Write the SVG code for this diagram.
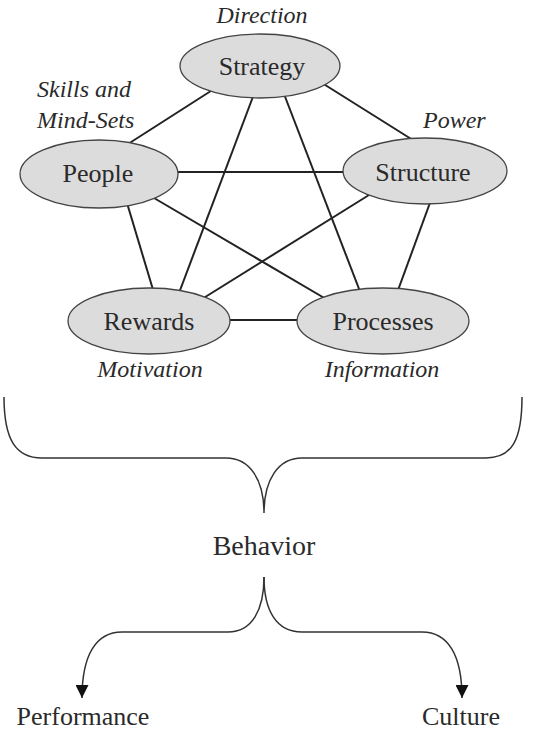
<svg xmlns="http://www.w3.org/2000/svg" width="540" height="731" viewBox="0 0 540 731">
  <style>
    .node ellipse { fill: #dcdcdc; stroke: #444; stroke-width: 1.3; }
    .label { font-family: "Liberation Serif", "DejaVu Serif", serif; font-size: 26px; fill: #2a2a2a; text-anchor: middle; }
    .note { font-family: "Liberation Serif", "DejaVu Serif", serif; font-size: 24px; font-style: italic; fill: #2a2a2a; }
    .link { stroke: #222; stroke-width: 2; fill: none; }
    .brace { stroke: #333; stroke-width: 1.5; fill: none; }
  </style>
  <defs>
    <marker id="arrow" viewBox="0 0 10 10" refX="10" refY="5" markerWidth="13" markerHeight="13" markerUnits="userSpaceOnUse" orient="auto">
      <path d="M0,0 L10,5 L0,10 Z" fill="#111"/>
    </marker>
  </defs>
  <rect width="540" height="731" fill="#ffffff"/>

  <!-- connectors between the five design elements -->
  <g id="connectors">
    <line class="link" x1="214" y1="89" x2="128" y2="144"/>
    <line class="link" x1="322" y1="83" x2="416" y2="142"/>
    <line class="link" x1="254" y1="94" x2="179" y2="293"/>
    <line class="link" x1="284" y1="94" x2="361" y2="294"/>
    <line class="link" x1="174" y1="172" x2="347" y2="172"/>
    <line class="link" x1="127" y1="203" x2="154" y2="293"/>
    <line class="link" x1="154" y1="198" x2="326" y2="299"/>
    <line class="link" x1="369" y1="195" x2="202" y2="299"/>
    <line class="link" x1="431" y1="200" x2="397" y2="293"/>
    <line class="link" x1="226" y1="320" x2="301" y2="320"/>
  </g>

  <g id="strategy" class="node">
    <ellipse cx="260" cy="66" rx="80" ry="32"/>
    <text class="label" x="262" y="75">Strategy</text>
    <text class="note" x="262" y="23" text-anchor="middle">Direction</text>
  </g>
  <g id="people" class="node">
    <ellipse cx="99" cy="174" rx="79" ry="34"/>
    <text class="label" x="98" y="182">People</text>
    <text class="note" x="37" y="97">Skills and</text>
    <text class="note" x="37" y="128">Mind-Sets</text>
  </g>
  <g id="structure" class="node">
    <ellipse cx="425" cy="171" rx="82" ry="33"/>
    <text class="label" x="423" y="181">Structure</text>
    <text class="note" x="423" y="128">Power</text>
  </g>
  <g id="rewards" class="node">
    <ellipse cx="149" cy="321" rx="81" ry="33"/>
    <text class="label" x="149" y="330">Rewards</text>
    <text class="note" x="150" y="377" text-anchor="middle">Motivation</text>
  </g>
  <g id="processes" class="node">
    <ellipse cx="383" cy="321" rx="86" ry="33"/>
    <text class="label" x="383" y="330">Processes</text>
    <text class="note" x="382" y="377" text-anchor="middle">Information</text>
  </g>

  <!-- brace gathering the elements into behavior -->
  <g id="brace">
    <path class="brace" d="M4,397 C4,440 16,458 42,458 L226,458 C250,458 264,480 264,513 C264,480 278,458 302,458 L486,458 C512,458 522,440 522,397"/>
  </g>

  <g id="behavior">
    <text class="label" x="264" y="555" style="font-size:28px">Behavior</text>
  </g>

  <!-- behavior splitting into its two outcomes -->
  <g id="outcome-links">
    <path class="brace" d="M264,577 C264,610 252,632 228,632 L122,632 C96,632 82,655 82,698" marker-end="url(#arrow)"/>
    <path class="brace" d="M264,577 C264,610 276,632 302,632 L422,632 C448,632 462,655 462,698" marker-end="url(#arrow)"/>
  </g>

  <g id="performance">
    <text class="label" x="83" y="725">Performance</text>
  </g>
  <g id="culture">
    <text class="label" x="461" y="725">Culture</text>
  </g>
</svg>
